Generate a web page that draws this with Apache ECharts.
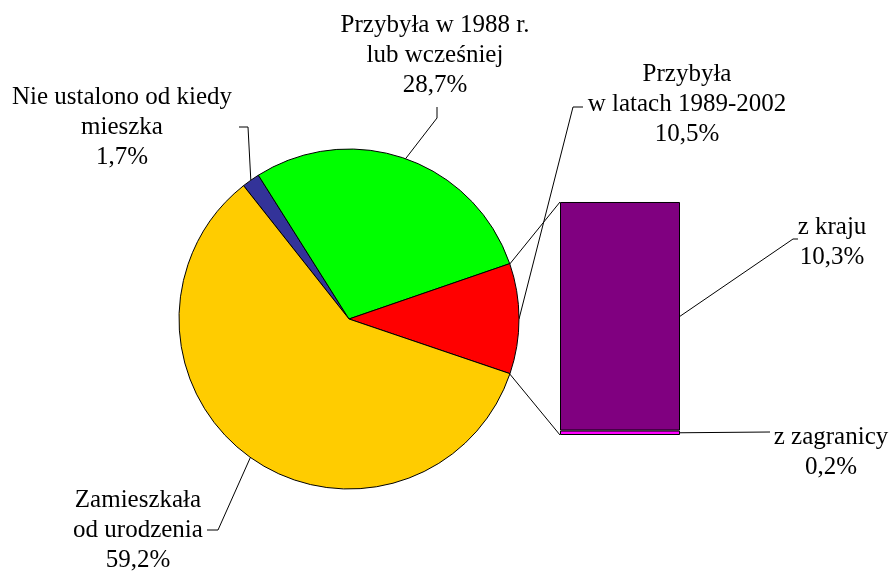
<!DOCTYPE html>
<html>
<head>
<meta charset="utf-8">
<script src="https://cdn.jsdelivr.net/npm/echarts@6/dist/echarts.min.js"></script>
<style>
  html, body { margin: 0; background: #fff; }
  #chart { width: 892px; height: 572px; }
</style>
</head>
<body>
<div id="chart"></div>
<script>
// pie data (clockwise from the blue slice)
const pieNames = ['Nie ustalono od kiedy\nmieszka', 'Przybyła w 1988 r.\nlub wcześniej', 'Przybyła\nw latach 1989-2002', 'Zamieszkała\nod urodzenia'];
const pieValues = [1.7, 28.7, 10.5, 59.2];
const pieColors = ['#333399', '#00FF00', '#FF0000', '#FFCC00'];

// breakdown of the red slice (bottom first)
const barNames = ['z zagranicy', 'z kraju'];
const barValues = [0.2, 10.3];
const barColors = ['#FF00FF', '#800080'];

// layout
const cx = 349, cy = 319, r = 170;
const font = { fontFamily: '"Liberation Serif", "Times New Roman", serif', fontSize: 25, lineHeight: 30, color: '#000' };
const pieLabelPos = [[122, 127], [435, 55], [687, 104], [138, 530]];
const pieLabelBends = [
  [[248, 127], [239, 127]],
  [[437, 118], [437, 107]],
  [[573, 107], [583, 107]],
  [[218, 530], [207, 530]]
];
const barLabelPos = [[831, 452], [832, 242]];
const barLabelBends = [
  [[770, 432]],
  [[793, 239], [798, 239]]
];
const grid = { left: 560, top: 202, width: 120, height: 233 };

const fmt = v => v.toFixed(1).replace('.', ',') + '%';
const deg = Math.PI / 180;
const before = pieValues[0] + pieValues[1];
const startAngle = (before + pieValues[2] / 2) * 3.6;

// point on the rim at the middle of each slice
const rimPoint = a => [cx + r * Math.cos(a * deg), cy - r * Math.sin(a * deg)];
let cum = 0;
const sliceMid = pieValues.map(v => {
  const a = startAngle - (cum + v / 2) * 3.6;
  cum += v;
  return a;
});

const chart = echarts.init(document.getElementById('chart'));
const barTotal = barValues.reduce((a, b) => a + b, 0);

chart.setOption({
  animation: false,
  grid: { ...grid },
  xAxis: { type: 'category', data: [''], show: false },
  yAxis: { type: 'value', min: 0, max: barTotal, show: false },
  series: [
    {
      type: 'pie',
      center: [cx, cy],
      radius: r,
      startAngle: startAngle,
      clockwise: true,
      avoidLabelOverlap: false,
      data: pieNames.map((n, i) => ({ name: n, value: pieValues[i], itemStyle: { color: pieColors[i] } })),
      itemStyle: { borderColor: '#000', borderWidth: 1 },
      label: {
        show: true,
        ...font,
        align: 'center',
        formatter: p => p.name + '\n' + fmt(p.value)
      },
      labelLine: { show: true, lineStyle: { color: '#000', width: 1 } },
      labelLayout: p => ({
        x: pieLabelPos[p.dataIndex][0],
        y: pieLabelPos[p.dataIndex][1],
        align: 'center',
        verticalAlign: 'middle',
        labelLinePoints: [rimPoint(sliceMid[p.dataIndex])].concat(pieLabelBends[p.dataIndex])
      }),
      emphasis: { disabled: true }
    }
  ].concat(barNames.map((n, i) => ({
    type: 'bar',
    name: n,
    stack: 'rest',
    barWidth: '100%',
    data: [barValues[i]],
    itemStyle: { color: barColors[i], borderColor: '#000', borderWidth: 1 },
    label: {
      show: true,
      position: 'right',
      ...font,
      align: 'center',
      formatter: p => p.seriesName + '\n' + fmt(p.value)
    },
    labelLayout: () => ({
      x: barLabelPos[i][0],
      y: barLabelPos[i][1],
      align: 'center',
      verticalAlign: 'middle'
    }),
    emphasis: { disabled: true }
  })))
});

// connector lines from the red slice to the bar, and the bar label lines
const toY = v => chart.convertToPixel({ xAxisIndex: 0, yAxisIndex: 0 }, [0, v])[1];
const redTop = startAngle - before * 3.6;
const redBottom = redTop - pieValues[2] * 3.6;
const lineStyle = { stroke: '#000', lineWidth: 1, fill: null };
const graphics = [
  { type: 'polyline', shape: { points: [rimPoint(redTop), [grid.left, toY(barTotal)]] }, style: lineStyle, z: 10 },
  { type: 'polyline', shape: { points: [rimPoint(redBottom), [grid.left, toY(0)]] }, style: lineStyle, z: 10 }
];
let base = 0;
barValues.forEach((v, i) => {
  const start = [grid.left + grid.width, toY(base + v / 2)];
  base += v;
  graphics.push({ type: 'polyline', shape: { points: [start].concat(barLabelBends[i]) }, style: lineStyle, z: 10 });
});
chart.setOption({ graphic: graphics });
</script>
</body>
</html>
